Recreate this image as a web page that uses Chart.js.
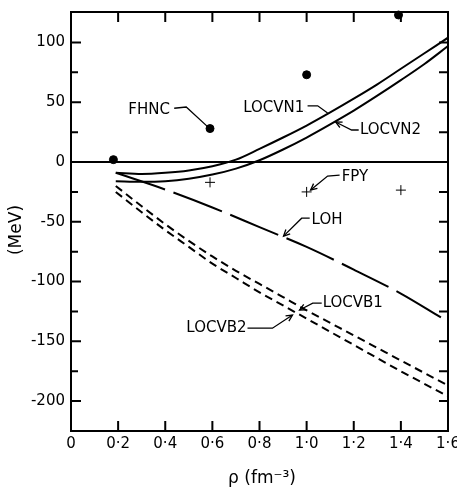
<!DOCTYPE html>
<html>
<head>
<meta charset="utf-8">
<script src="https://cdn.jsdelivr.net/npm/chart.js@4.4.0/dist/chart.umd.min.js"></script>
<style>
  html, body { margin: 0; padding: 0; background: #fff; }
</style>
</head>
<body>
<canvas id="chart" width="457" height="494"></canvas>
<script>
// axes
const xTicks = [0, 0.2, 0.4, 0.6, 0.8, 1.0, 1.2, 1.4, 1.6];
const xTickLabels = ['0', '0·2', '0·4', '0·6', '0·8', '1·0', '1·2', '1·4', '1·6'];
const yTicks = [-200, -150, -100, -50, 0, 50, 100];
const yMinorTicks = [-175, -125, -75, -25, 25, 75];
const yRightTicks = [-200, -175, -150, -125, -100, -75, -50, -25, 25, 50, 75, 100];

// LOCV curves (density in fm^-3, energy in MeV)
const rhoN = [0.19, 0.3, 0.4, 0.5, 0.6, 0.7, 0.8, 0.9, 1.0, 1.1, 1.2, 1.3, 1.4, 1.5, 1.6];
const locvn1 = [-9, -10, -9, -7, -3.5, 2, 11, 20.5, 30.5, 41.5, 53, 65, 78, 91, 104];
const locvn2 = [-16, -16.5, -16, -14, -10.5, -5.5, 1.5, 10.5, 20.5, 31.5, 43, 55.5, 68.5, 82, 97];

const rhoB = [0.19, 0.3, 0.4, 0.5, 0.6, 0.7, 0.8, 0.9, 1.0, 1.2, 1.4, 1.6];
const locvb1 = [-20, -37, -52, -66, -79, -91, -102, -113, -124, -145, -166, -187];
const locvb2 = [-25, -42, -57, -71, -85, -97, -109, -120, -131, -153, -175, -196];

const rhoLoh = [0.19, 0.4, 0.6, 0.8, 1.0, 1.2, 1.4, 1.57];
const loh = [-9, -23, -38, -54.5, -71, -90, -110, -130];

// points
const rhoFhnc = [0.18, 0.59, 1.0, 1.39];
const fhnc = [2, 28, 73, 123];
const rhoFpy = [0.59, 1.0, 1.4];
const fpy = [-17, -25, -23.5];

// curve labels with leader lines (data coordinates)
const notes = [
  { text: 'FHNC', at: [0.42, 43.5], align: 'right', path: [[0.438, 45], [0.489, 46], [0.583, 29]], arrow: false },
  { text: 'LOCVN1', at: [0.99, 45], align: 'right', path: [[1.004, 47], [1.047, 47], [1.089, 41]], arrow: false },
  { text: 'LOCVN2', at: [1.226, 26.8], align: 'left', path: [[1.221, 26.8], [1.191, 26.8], [1.123, 33.5]], arrow: true },
  { text: 'FPY', at: [1.149, -12.6], align: 'left', path: [[1.140, -11], [1.089, -11.7], [1.017, -23.4]], arrow: true },
  { text: 'LOH', at: [1.021, -48.5], align: 'left', path: [[1.013, -47], [0.979, -47], [0.902, -62]], arrow: true },
  { text: 'LOCVB1', at: [1.068, -118], align: 'left', path: [[1.064, -118], [1.026, -118], [0.970, -123.8]], arrow: true },
  { text: 'LOCVB2', at: [0.745, -139], align: 'right', path: [[0.749, -139], [0.855, -139], [0.940, -128]], arrow: true }
];

const FONT = '"DejaVu Sans", sans-serif';

function pts(xs, ys) {
  return xs.map((x, i) => ({ x: x, y: ys[i] }));
}

function curve(label, xs, ys, dash) {
  return {
    label: label,
    data: pts(xs, ys),
    borderColor: '#000',
    borderWidth: 2,
    borderDash: dash,
    pointRadius: 0,
    tension: 0.4,
    cubicInterpolationMode: 'monotone',
    fill: false
  };
}

// frame, inward ticks, zero line, titles and labels
const framePlugin = {
  id: 'frame',
  beforeDatasetsDraw(chart) {
    const { ctx, chartArea: a, scales: { y } } = chart;
    const y0 = y.getPixelForValue(0);
    ctx.save();
    ctx.strokeStyle = '#000';
    ctx.lineWidth = 2;
    ctx.beginPath();
    ctx.moveTo(a.left, y0);
    ctx.lineTo(a.right, y0);
    ctx.stroke();
    ctx.restore();
  },
  afterDatasetsDraw(chart) {
    const { ctx, chartArea: a, scales: { x, y } } = chart;
    ctx.save();
    ctx.strokeStyle = '#000';
    ctx.lineWidth = 2;
    ctx.strokeRect(a.left, a.top, a.right - a.left, a.bottom - a.top);

    ctx.beginPath();
    xTicks.slice(1, -1).forEach(v => {
      const px = x.getPixelForValue(v);
      ctx.moveTo(px, a.bottom);
      ctx.lineTo(px, a.bottom - 10);
      ctx.moveTo(px, a.top);
      ctx.lineTo(px, a.top + 10);
    });
    yTicks.forEach(v => {
      const py = y.getPixelForValue(v);
      ctx.moveTo(a.left, py);
      ctx.lineTo(a.left + 10, py);
    });
    yMinorTicks.forEach(v => {
      const py = y.getPixelForValue(v);
      ctx.moveTo(a.left, py);
      ctx.lineTo(a.left + 7, py);
    });
    yRightTicks.forEach(v => {
      const py = y.getPixelForValue(v);
      ctx.moveTo(a.right, py);
      ctx.lineTo(a.right - 9, py);
    });
    ctx.stroke();
    ctx.restore();
  },
  afterDraw(chart) {
    const { ctx, scales: { x, y } } = chart;
    ctx.save();
    ctx.fillStyle = '#000';
    ctx.strokeStyle = '#000';

    // axis titles
    ctx.font = '17px ' + FONT;
    ctx.textAlign = 'center';
    ctx.textBaseline = 'middle';
    ctx.save();
    ctx.translate(17, 230);
    ctx.rotate(-Math.PI / 2);
    ctx.fillText('(MeV)', 0, 0);
    ctx.restore();
    ctx.fillText('ρ (fm⁻³)', 262, 479);

    // curve labels
    ctx.font = '15px ' + FONT;
    ctx.lineWidth = 1.3;
    notes.forEach(n => {
      ctx.textAlign = n.align;
      ctx.fillText(n.text, x.getPixelForValue(n.at[0]), y.getPixelForValue(n.at[1]));
      const p = n.path.map(q => [x.getPixelForValue(q[0]), y.getPixelForValue(q[1])]);
      ctx.beginPath();
      ctx.moveTo(p[0][0], p[0][1]);
      for (let i = 1; i < p.length; i++) ctx.lineTo(p[i][0], p[i][1]);
      ctx.stroke();
      if (n.arrow) {
        const [tx, ty] = p[p.length - 1];
        const [fx, fy] = p[p.length - 2];
        const ang = Math.atan2(ty - fy, tx - fx);
        ctx.beginPath();
        ctx.moveTo(tx - 7 * Math.cos(ang - 0.45), ty - 7 * Math.sin(ang - 0.45));
        ctx.lineTo(tx, ty);
        ctx.lineTo(tx - 7 * Math.cos(ang + 0.45), ty - 7 * Math.sin(ang + 0.45));
        ctx.stroke();
      }
    });
    ctx.restore();
  }
};

new Chart(document.getElementById('chart'), {
  type: 'line',
  data: {
    datasets: [
      curve('LOCVN1', rhoN, locvn1, []),
      curve('LOCVN2', rhoN, locvn2, []),
      curve('LOH', rhoLoh, loh, [52, 9]),
      curve('LOCVB1', rhoB, locvb1, [8, 5]),
      curve('LOCVB2', rhoB, locvb2, [8, 5]),
      {
        label: 'FHNC',
        data: pts(rhoFhnc, fhnc),
        showLine: false,
        pointStyle: 'circle',
        pointRadius: 4,
        pointBackgroundColor: '#000',
        pointBorderColor: '#000',
        clip: false
      },
      {
        label: 'FPY',
        data: pts(rhoFpy, fpy),
        showLine: false,
        pointStyle: 'cross',
        pointRadius: 5,
        pointBorderWidth: 1,
        pointBorderColor: '#000'
      }
    ]
  },
  options: {
    responsive: false,
    animation: false,
    layout: { padding: { top: 12, right: 9, left: 0, bottom: 0 } },
    plugins: { legend: { display: false }, tooltip: { enabled: false } },
    scales: {
      x: {
        type: 'linear',
        min: 0,
        max: 1.6,
        afterBuildTicks: s => { s.ticks = xTicks.map(v => ({ value: v })); },
        afterFit: s => { s.height = 63; s.paddingLeft = 0; s.paddingRight = 0; },
        ticks: {
          autoSkip: false,
          maxRotation: 0,
          padding: 4,
          color: '#000',
          font: { family: FONT, size: 15 },
          callback: (v, i) => xTickLabels[i]
        },
        grid: { display: false, drawTicks: false },
        border: { display: false }
      },
      y: {
        type: 'linear',
        min: -225,
        max: 125.5,
        afterBuildTicks: s => { s.ticks = yTicks.map(v => ({ value: v })); },
        afterFit: s => { s.width = 71; s.paddingTop = 0; s.paddingBottom = 0; },
        ticks: {
          padding: 6,
          color: '#000',
          font: { family: FONT, size: 15 },
          callback: v => String(v)
        },
        grid: { display: false, drawTicks: false },
        border: { display: false }
      }
    }
  },
  plugins: [framePlugin]
});
</script>
</body>
</html>
